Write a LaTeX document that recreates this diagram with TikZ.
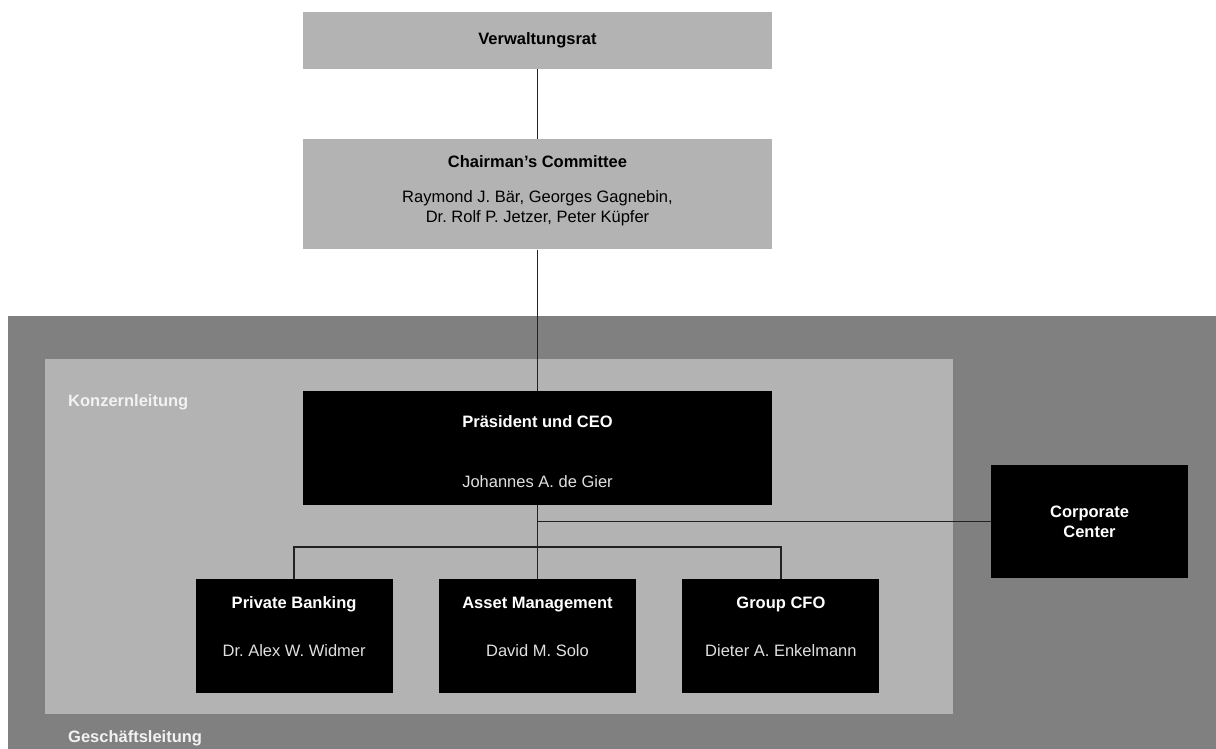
\documentclass[tikz,border=0pt]{standalone}
\usepackage{fontspec}
\setmainfont{Liberation Sans}
\usetikzlibrary{positioning}
\definecolor{boardGray}{RGB}{179, 179, 179}
\definecolor{outerGray}{RGB}{128, 128, 128}
\definecolor{lineColor}{RGB}{34, 34, 34}
\definecolor{labelColor}{RGB}{242, 242, 242}
\definecolor{nameColor}{RGB}{224, 224, 224}
\newcommand{\orgfont}{\fontsize{16.5}{20}\selectfont}
\frenchspacing
\tikzset{
    board_box/.style={
        rectangle,
        fill=boardGray,
        inner sep=0pt,
        minimum width=469pt,
        text=black,
        font=\orgfont\bfseries
    },
    exec_box/.style={
        rectangle,
        fill=black,
        inner sep=0pt,
        align=center,
        text=white,
        font=\orgfont\bfseries
    },
    unit_box/.style={
        exec_box,
        minimum width=197pt,
        minimum height=114pt
    },
    title_text/.style={
        anchor=base,
        font=\orgfont\bfseries
    },
    name_text/.style={
        anchor=base,
        font=\orgfont
    },
    region_label/.style={
        anchor=base west,
        inner sep=0pt,
        text=labelColor,
        font=\orgfont\bfseries
    },
    org_line/.style={
        draw=lineColor,
        line width=1.4pt
    }
}
\begin{document}
\begin{tikzpicture}[x=1pt, y=-1pt]
    \useasboundingbox (0,0) rectangle (1216,749);

    % group areas
    \fill[outerGray] (8,316) rectangle (1216,749);
    \fill[boardGray] (45,359) rectangle (953,714);
    \node[region_label] (kl) at (68,406) {Konzernleitung};
    \node[region_label] (gl) at (68,742) {Geschäftsleitung};

    % board
    \node[board_box, minimum height=57pt] (vr) at (537.5,40.5) {Verwaltungsrat};
    \node[board_box, minimum height=110pt, below=70pt of vr] (cc) {};
    \node[title_text, text=black] (ccT) at ([yshift=-28pt]cc.north) {Chairman’s Committee};
    \node[name_text, text=black] (ccN1) at ([yshift=-63pt]cc.north) {Raymond J. Bär, Georges Gagnebin,};
    \node[name_text, text=black] (ccN2) at ([yshift=-83pt]cc.north) {Dr. Rolf P. Jetzer, Peter Küpfer};

    % executive board
    \node[exec_box, minimum width=469pt, minimum height=114pt, below=141pt of cc] (ceo) {};
    \node[title_text, text=white] (ceoT) at ([yshift=-37pt]ceo.north) {Präsident und CEO};
    \node[name_text, text=nameColor] (ceoN) at ([yshift=-97pt]ceo.north) {Johannes A. de Gier};

    \node[unit_box] (am) at (537.5,636) {};
    \node[unit_box, left=46pt of am] (pb) {};
    \node[unit_box, right=46pt of am] (cfo) {};
    \node[title_text, text=white] (pbT) at ([yshift=-30pt]pb.north) {Private Banking};
    \node[name_text, text=nameColor] (pbN) at ([yshift=-78pt]pb.north) {Dr. Alex W. Widmer};
    \node[title_text, text=white] (amT) at ([yshift=-30pt]am.north) {Asset Management};
    \node[name_text, text=nameColor] (amN) at ([yshift=-78pt]am.north) {David M. Solo};
    \node[title_text, text=white] (cfoT) at ([yshift=-30pt]cfo.north) {Group CFO};
    \node[name_text, text=nameColor] (cfoN) at ([yshift=-78pt]cfo.north) {Dieter A. Enkelmann};

    \node[exec_box, minimum width=197pt, minimum height=113pt] (corp) at (1089.5,521.5) {Corporate\\Center};

    % reporting lines
    \coordinate (bus) at ([yshift=-42pt]ceo.south);
    \draw[org_line] (vr.south) -- (cc.north);
    \draw[org_line] (cc.south) -- (ceo.north);
    \draw[org_line] (ceo.south) -- (am.north);
    \draw[org_line] (pb.north) |- (bus) -| (cfo.north);
    \draw[org_line] (ceo.south |- corp.west) -- (corp.west);
\end{tikzpicture}
\end{document}
